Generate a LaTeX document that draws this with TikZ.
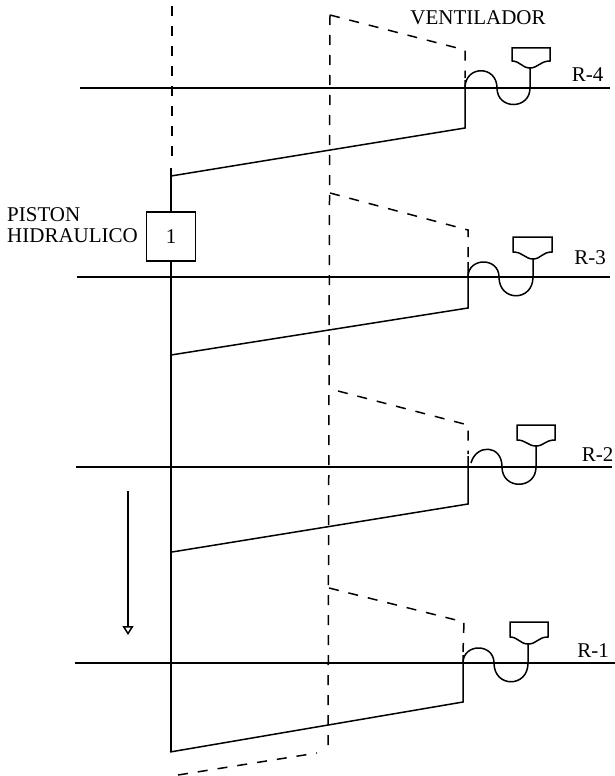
\documentclass[tikz,border=0pt]{standalone}
\usepackage{fontspec}
\usetikzlibrary{arrows.meta}
\setmainfont{Liberation Serif}
\tikzset{
	solidline/.style={line width=1.5pt, color=black},
	dashline/.style={line width=1.5pt, color=black, dash pattern=on 10pt off 10pt},
	lab/.style={font=\fontsize{21}{21}\selectfont, inner sep=0pt, color=black},
}
\begin{document}
\begin{tikzpicture}[x=1pt, y=-1pt]
	\useasboundingbox (0,0) rectangle (615,776);
	% columna y piston
	\draw[dashline] (172,6) -- (172,165);
	\draw[dashline] (330,15) -- (328,753);
	\draw[solidline] (171,168) -- (171,212);
	\node[draw, line width=1.5pt, minimum size=49pt, inner sep=0pt, font=\fontsize{21}{21}\selectfont] (piston) at (171,236.5) {1};
	\draw[solidline] (piston.south) -- (171,752);
	\node[lab, align=left, anchor=west] (pistonlab) at (7,225) {PISTON\\HIDRAULICO};
	\node[lab] (ventilador) at (478,17.5) {VENTILADOR};
	% R-4
	\draw[solidline] (80,88) -- (610,88);
	\draw[solidline] (171,176) -- (465,128) -- (465,80);
	\draw[dashline] (330,15) -- (465,50) -- (465,78);
	\draw[solidline] (465,88) .. controls (465,65) and (497,65) .. (497,88) .. controls (497,110) and (530,110) .. (530,88) -- (530,68);
	\draw[solidline] (512,48) -- (550,48) -- (550,61) .. controls (540,61) and (538,68) .. (530,68) .. controls (522,68) and (520,61) .. (512,61) -- cycle;
	\node[lab] (r4) at (587.5,74.5) {R-4};
	% R-3
	\draw[solidline] (77,277) -- (610,277);
	\draw[solidline] (171,355) -- (468,308) -- (468,262);
	\draw[dashline] (330,193) -- (468,230) -- (468,258);
	\draw[solidline] (468,277) .. controls (468,257) and (499,257) .. (499,277) .. controls (499,302) and (533,302) .. (533,277) -- (533,259);
	\draw[solidline] (513,237) -- (552,237) -- (552,252) .. controls (542,252) and (541,259) .. (533,259) .. controls (525,259) and (523,252) .. (513,252) -- cycle;
	\node[lab] (r3) at (590,258) {R-3};
	% R-2
	\draw[solidline] (76,467) -- (612,467);
	\draw[solidline] (172,552) -- (468,504) -- (468,456);
	\draw[dashline] (338,391) -- (468,425) -- (468,454);
	\draw[solidline] (471,463) .. controls (476,444) and (502,444) .. (502,467) .. controls (502,490) and (536,490) .. (536,467) -- (536,446);
	\draw[solidline] (517,425) -- (555,425) -- (555,440) .. controls (545,440) and (544,446) .. (536,446) .. controls (528,446) and (526,440) .. (517,440) -- cycle;
	\node[lab] (r2) at (597.5,454.5) {R-2};
	% R-1
	\draw[solidline] (75,663) -- (615,663);
	\draw[solidline] (170,752) -- (463,702) -- (463,655);
	\draw[dashline] (329,588) -- (464,622) -- (463,652);
	\draw[solidline] (463,663) .. controls (463,643) and (494,643) .. (494,663) .. controls (494,688) and (528,688) .. (528,663) -- (528,644);
	\draw[solidline] (510,622) -- (548,622) -- (548,637) .. controls (538,637) and (537,644) .. (528,644) .. controls (520,644) and (518,637) .. (510,637) -- cycle;
	\node[lab] (r1) at (593,650.5) {R-1};
	% base y flecha
	\draw[dashline] (178,775) -- (317,753);
	\coordinate (flechatop) at (128,491);
	\coordinate (flechatip) at (128,635);
	\draw[solidline, -{Triangle[open, length=9pt, width=11pt]}] (flechatop) -- (flechatip);
\end{tikzpicture}
\end{document}
